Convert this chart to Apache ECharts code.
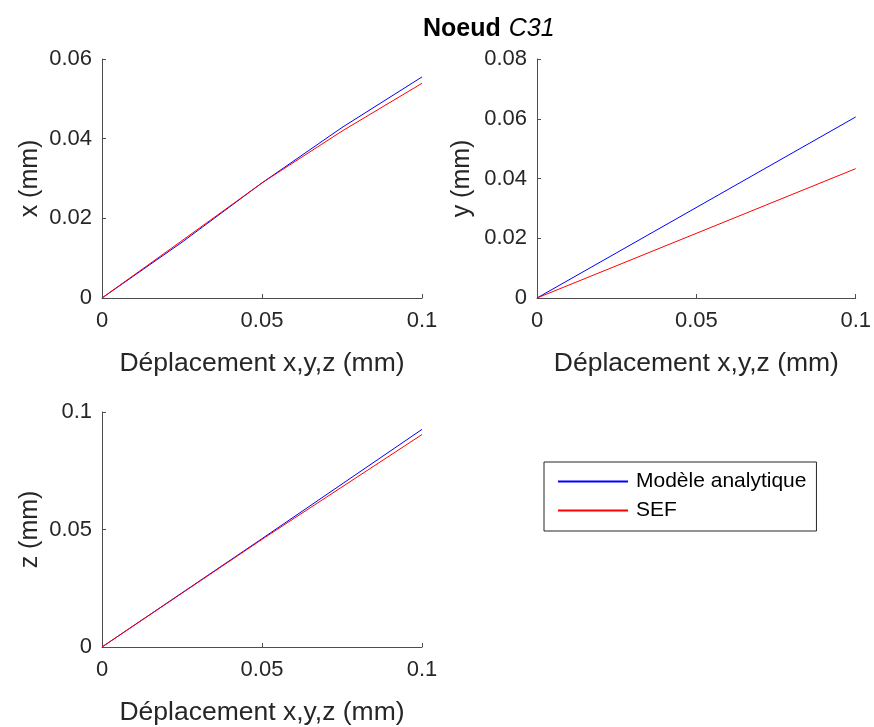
<!DOCTYPE html>
<html><head><meta charset="utf-8">
<script src="https://cdn.jsdelivr.net/npm/echarts@6/dist/echarts.min.js"></script>
<style>html,body{margin:0;padding:0;background:#fff}#c{width:874px;height:727px}</style>
</head><body><div id="c"></div>
<script>
const titleMain = 'Noeud';
const titleNode = 'C31';
const seriesNames = ['Modèle analytique', 'SEF'];
const xName = 'Déplacement x,y,z (mm)';
const yNames = ['x (mm)', 'y (mm)', 'z (mm)'];

const xsX = [0, 0.025, 0.05, 0.075, 0.1];
const xAnalytique = [0, 0.0140, 0.0289, 0.0428, 0.0555];
const xSEF = [0, 0.0144, 0.0289, 0.0419, 0.0539];

const xsY = [0, 0.1];
const yAnalytique = [0, 0.0606];
const ySEF = [0, 0.0433];

const xsZ = [0, 0.05, 0.1];
const zAnalytique = [0, 0.0461, 0.0926];
const zSEF = [0, 0.0458, 0.0904];

const yMax = [0.06, 0.08, 0.1];
const yStep = [0.02, 0.02, 0.05];

function pairs(xs, ys){ return xs.map((x,i)=>[x, ys[i]]); }

const FONT = 'Liberation Sans, Arial, sans-serif';
const axisCol = '#4d4d4d';
const textCol = '#262626';
const colors = ['#0000ff', '#ff0000'];

const grids = [
  {left:102, top:59, width:320, height:239},
  {left:537, top:59, width:321, height:239},
  {left:102, top:412, width:320, height:236}
];

function fmt(v){ return v === 0 ? '0' : String(+v.toFixed(3)); }

const xAxes = grids.map((g,i)=>({
  type:'value', gridIndex:i, min:0, max:0.1, interval:0.05,
  name:xName, nameLocation:'middle', nameGap:52,
  nameTextStyle:{fontFamily:FONT, fontSize:26.5, color:textCol},
  axisLine:{show:true, onZero:false, lineStyle:{color:axisCol, width:1}},
  axisTick:{show:true, inside:true, length:4, lineStyle:{color:axisCol}},
  axisLabel:{fontFamily:FONT, fontSize:22, color:textCol, margin:12, formatter:fmt},
  splitLine:{show:false}
}));
const yAxes = grids.map((g,i)=>({
  type:'value', gridIndex:i, min:0, max:yMax[i], interval:yStep[i],
  name:yNames[i], nameLocation:'middle', nameGap: i===1 ? 62 : 59, nameRotate:90,
  nameTextStyle:{fontFamily:FONT, fontSize:25, color:textCol},
  axisLine:{show:true, onZero:false, lineStyle:{color:axisCol, width:1}},
  axisTick:{show:true, inside:true, length:4, lineStyle:{color:axisCol}},
  axisLabel:{fontFamily:FONT, fontSize:22, color:textCol, margin:10, formatter:fmt},
  splitLine:{show:false}
}));

function line(name, data, idx, color){
  return {type:'line', name:name, xAxisIndex:idx, yAxisIndex:idx, data:data,
    symbol:'none', showSymbol:false, lineStyle:{color:color, width:1}, itemStyle:{color:color},
    animation:false, z: color==='#ff0000'?3:2};
}

const series = [
  line(seriesNames[0], pairs(xsX, xAnalytique), 0, colors[0]),
  line(seriesNames[1], pairs(xsX, xSEF), 0, colors[1]),
  line(seriesNames[0], pairs(xsY, yAnalytique), 1, colors[0]),
  line(seriesNames[1], pairs(xsY, ySEF), 1, colors[1]),
  line(seriesNames[0], pairs(xsZ, zAnalytique), 2, colors[0]),
  line(seriesNames[1], pairs(xsZ, zSEF), 2, colors[1])
];

const chart = echarts.init(document.getElementById('c'));
chart.setOption({
  backgroundColor:'#fff',
  animation:false,
  title:{
    text:'{b|' + titleMain + '} {i|' + titleNode + '}',
    left:418, top:12,
    textStyle:{rich:{
      b:{fontFamily:FONT, fontSize:25, fontWeight:'bold', color:'#000'},
      i:{fontFamily:FONT, fontSize:25, fontWeight:'normal', fontStyle:'italic', color:'#000', padding:[0,0,0,3]}
    }}
  },
  legend:{
    data:seriesNames.map((n,i)=>({name:n, itemStyle:{color:colors[i], borderWidth:0}})),
    icon:'rect',
    orient:'vertical', left:544, top:462,
    itemWidth:70, itemHeight:2, itemGap:8,
    padding:[9, 10, 10, 14],
    borderColor:'#262626', borderWidth:1, backgroundColor:'#fff',
    textStyle:{fontFamily:FONT, fontSize:21, color:'#000', padding:[0,0,0,3]},
    selectedMode:false
  },
  grid:grids,
  xAxis:xAxes,
  yAxis:yAxes,
  series:series
});
</script></body></html>
